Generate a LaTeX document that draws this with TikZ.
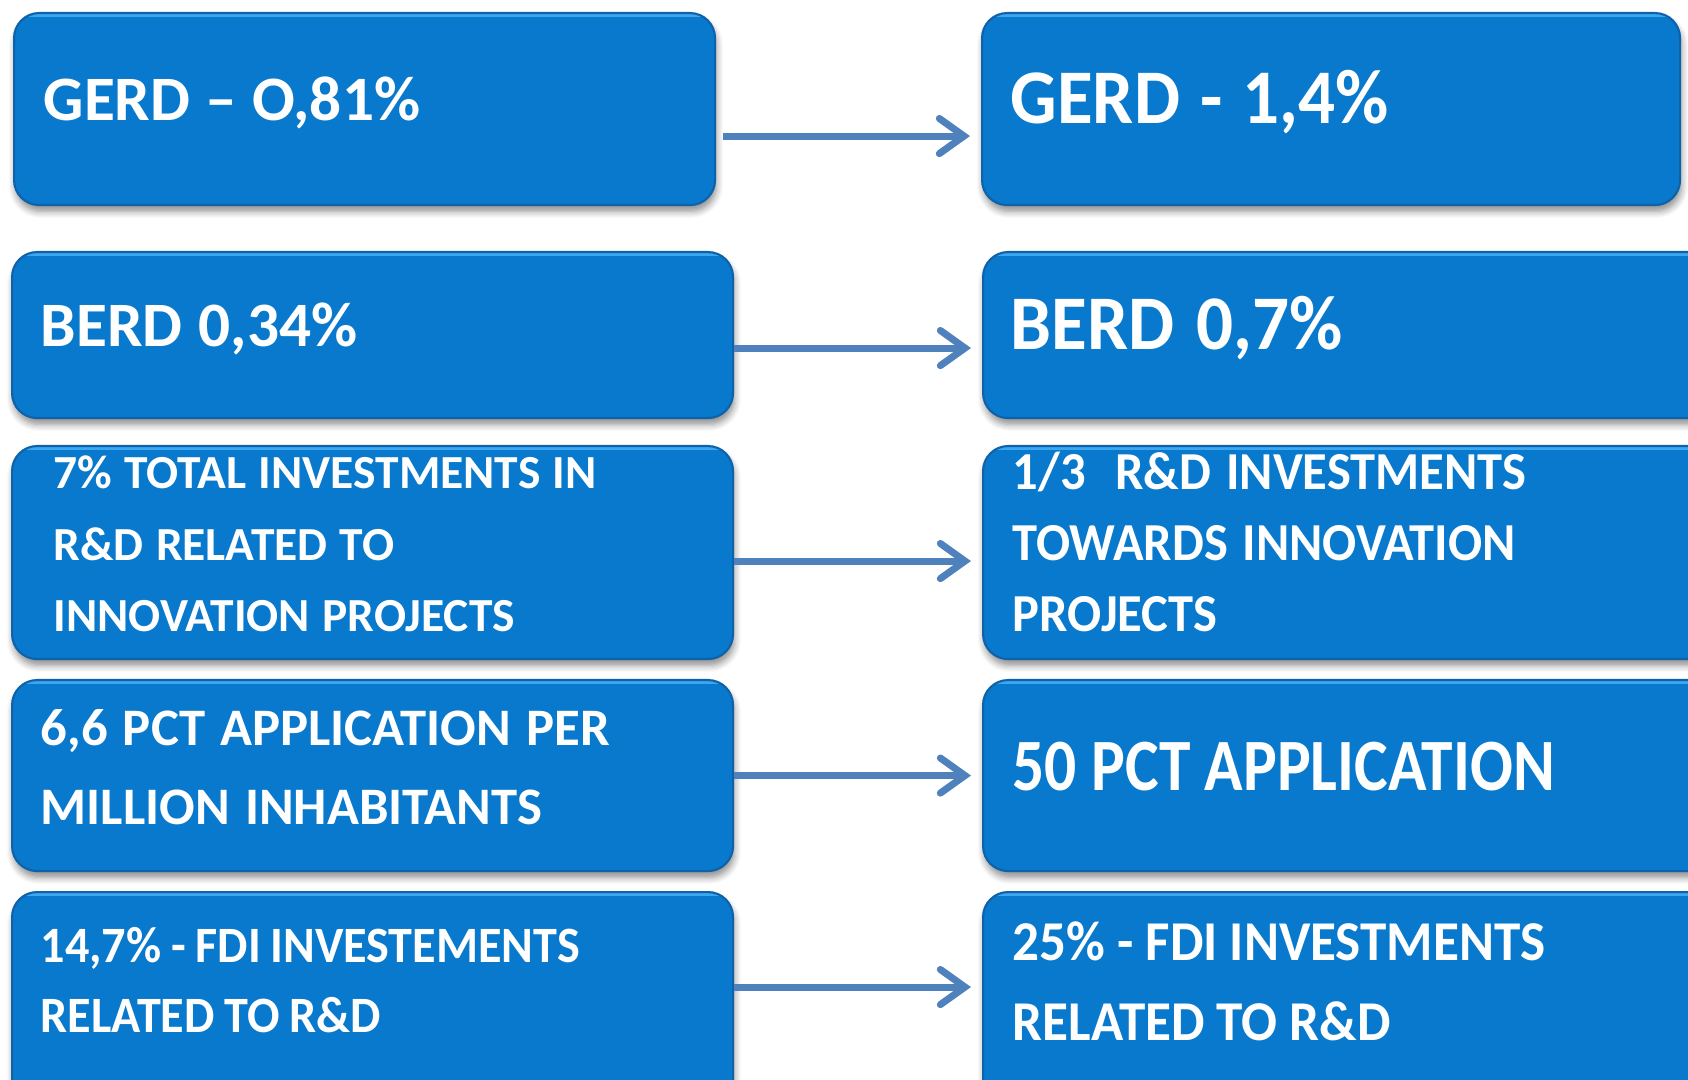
\documentclass[tikz,border=0pt]{standalone}
\usepackage{fontspec}
\setmainfont{Carlito}
\newfontfamily\slimfont{Carlito}[FakeStretch=0.945]
\newfontfamily\narrowfont{Carlito}[FakeStretch=0.86]
\usepackage{tikz}
\usetikzlibrary{
    positioning,
    arrows.meta,
    shadows.blur
}
\definecolor{boxBlue}{RGB}{8, 121, 204}
\definecolor{edgeBlue}{RGB}{60, 166, 238}
\definecolor{rimBlue}{RGB}{14, 98, 170}
\definecolor{arrowBlue}{RGB}{79, 129, 189}
% tight word spaces as on the slide
\newcommand{\wordgap}[1]{\spaceskip=#1em\relax}

\begin{document}
\begin{tikzpicture}[scale=1.0,
        box/.style={rectangle, rounded corners=0.25cm, fill=boxBlue, draw=rimBlue, line width=0.6pt,
            anchor=north west, inner sep=0pt,
            path picture={\draw[edgeBlue, line width=2.2pt] (path picture bounding box.north west) -- (path picture bounding box.north east);},
            blur shadow={shadow xshift=0.4pt, shadow yshift=-1.8pt, shadow blur steps=6, shadow opacity=45}},
        txt/.style={anchor=base west, inner sep=0pt, text=white, align=left, text width=7cm},
        link/.style={-{Straight Barb[length=7pt, width=10pt, line cap=round]}, line width=2pt, arrowBlue}
    ]
        \useasboundingbox (0, 0) rectangle (16.88, -10.80);
        \clip (0, 0) rectangle (16.88, -10.80);

        % Boxes, left column
        \node[box, minimum width=7.01cm, minimum height=1.92cm] (G0) at (0.13, -0.12) {};
        \node[box, minimum width=7.21cm, minimum height=1.66cm] (B0) at (0.11, -2.51) {};
        \node[box, minimum width=7.21cm, minimum height=2.13cm] (I0) at (0.11, -4.45) {};
        \node[box, minimum width=7.21cm, minimum height=1.91cm] (P0) at (0.11, -6.79) {};
        \node[box, minimum width=7.21cm, minimum height=2.40cm] (F0) at (0.11, -8.91) {};

        % Boxes, right column (runs off the page)
        \node[box, minimum width=6.98cm, minimum height=1.92cm] (G1) at (9.81, -0.12) {};
        \node[box, minimum width=7.40cm, minimum height=1.66cm] (B1) at (9.82, -2.51) {};
        \node[box, minimum width=7.40cm, minimum height=2.13cm] (I1) at (9.82, -4.45) {};
        \node[box, minimum width=7.40cm, minimum height=1.91cm] (P1) at (9.82, -6.79) {};
        \node[box, minimum width=7.40cm, minimum height=2.40cm] (F1) at (9.82, -8.91) {};

        % Texts
        \node[txt, font=\bfseries\fontsize{18}{22}\selectfont] (G0t) at (0.43, -1.21)
            {\wordgap{0.24}GERD – O,81\%};
        \node[txt, font=\slimfont\bfseries\fontsize{22}{26}\selectfont] (G1t) at (10.10, -1.24)
            {\wordgap{0.26}GERD - 1,4\%};
        \node[txt, font=\bfseries\fontsize{18}{22}\selectfont] (B0t) at (0.40, -3.47)
            {\wordgap{0.26}BERD 0,34\%};
        \node[txt, font=\slimfont\bfseries\fontsize{22}{26}\selectfont] (B1t) at (10.10, -3.50)
            {\wordgap{0.28}BERD 0,7\%};
        \node[txt, font=\bfseries\fontsize{13.5}{20.3}\selectfont] (I0t) at (0.53, -4.89)
            {\wordgap{0.26}7\% TOTAL INVESTMENTS IN\\R\&D RELATED TO\\INNOVATION PROJECTS};
        \node[txt, font=\slimfont\bfseries\fontsize{15.2}{20.2}\selectfont] (I1t) at (10.12, -4.90)
            {\wordgap{0.28}1/3\ \ R\&D INVESTMENTS\\TOWARDS INNOVATION\\PROJECTS};
        \node[txt, font=\bfseries\fontsize{15}{22.5}\selectfont] (P0t) at (0.40, -7.45)
            {\wordgap{0.29}6,6 PCT APPLICATION PER\\MILLION INHABITANTS};
        \node[txt, font=\narrowfont\bfseries\fontsize{21}{25}\selectfont] (P1t) at (10.12, -7.90)
            {\wordgap{0.195}50 PCT APPLICATION};
        \node[txt, font=\slimfont\bfseries\fontsize{14.5}{20.2}\selectfont] (F0t) at (0.40, -9.62)
            {\wordgap{0.19}14,7\% - FDI INVESTEMENTS\\RELATED TO R\&D};
        \node[txt, font=\slimfont\bfseries\fontsize{16}{23}\selectfont] (F1t) at (10.12, -9.60)
            {\wordgap{0.215}25\% - FDI INVESTMENTS\\RELATED TO R\&D};

        % Arrows
        \draw[link] ([shift={(0.07, -0.27)}]G0.east) -- ([shift={(-0.11, -0.27)}]G1.west);
        \draw[link] ([shift={(0, -0.13)}]B0.east) -- ([shift={(-0.11, -0.13)}]B1.west);
        \draw[link] ([shift={(0, -0.085)}]I0.east) -- ([shift={(-0.11, -0.085)}]I1.west);
        \draw[link] (P0.east) -- ([xshift=-0.11cm]P1.west);
        \draw[link] ([shift={(0, 0.25)}]F0.east) -- ([shift={(-0.11, 0.25)}]F1.west);
    \end{tikzpicture}
\end{document}
